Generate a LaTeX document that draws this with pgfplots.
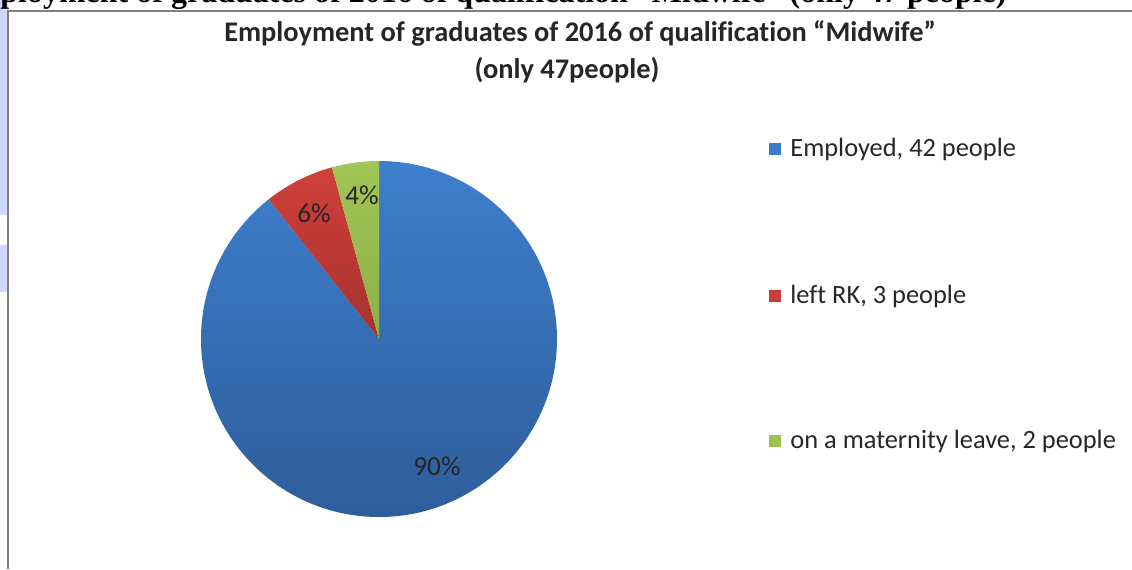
\documentclass[border=0pt]{standalone}
\usepackage{pgfplots}
\pgfplotsset{compat=1.18}
\usepackage{pgfplotstable}
\usepackage{fontspec}
\setmainfont{Carlito}[Ligatures=NoCommon]
\newfontfamily\timesfont{Liberation Serif}
\definecolor{bluetop}{RGB}{62,127,204}
\definecolor{bluebot}{RGB}{46,93,155}
\definecolor{redtop}{RGB}{208,64,58}
\definecolor{redbot}{RGB}{165,49,46}
\definecolor{greentop}{RGB}{162,198,84}
\definecolor{greenbot}{RGB}{140,175,72}
\definecolor{frame}{RGB}{128,128,128}
\definecolor{hl}{RGB}{206,216,255}

\pgfplotstableread{
label value
Employed 42
LeftRK 3
Maternity 2
}\piedata
\pgfplotstablegetelem{0}{value}\of\piedata \let\vA\pgfplotsretval
\pgfplotstablegetelem{1}{value}\of\piedata \let\vB\pgfplotsretval
\pgfplotstablegetelem{2}{value}\of\piedata \let\vC\pgfplotsretval
\pgfmathsetmacro\tot{\vA+\vB+\vC}
\pgfmathsetmacro\aA{90}
\pgfmathsetmacro\aB{\aA-360*\vA/\tot}
\pgfmathsetmacro\aC{\aB-360*\vB/\tot}
\pgfmathsetmacro\aD{\aC-360*\vC/\tot}

\begin{document}
\begin{tikzpicture}
\useasboundingbox (0,0) rectangle (566pt,284.5pt);
\begin{axis}[
  at={(0,0)}, anchor=south west,
  width=566pt, height=284.5pt, scale only axis,
  xmin=0, xmax=1132, ymin=0, ymax=569, y dir=reverse,
  hide axis, clip=false]
  % page artefacts
  \fill[hl] (axis cs:0,0) rectangle (axis cs:8,215);
  \fill[hl] (axis cs:0,245) rectangle (axis cs:8,292);
  \begin{scope}
    \clip (axis cs:0,0) rectangle (axis cs:1132,10);
    \node[anchor=base west, inner sep=0pt, font=\timesfont\bfseries\fontsize{16}{18}\selectfont]
      at (axis cs:-48,2) {Employment of graduates of 2016 of qualification “Midwife” (only 47 people)};
  \end{scope}
  \draw[frame, line width=1pt] (axis cs:8.3,569) -- (axis cs:8.3,11) -- (axis cs:1132,11);
  % pie
  \shade[top color=bluetop, bottom color=bluebot] (axis cs:379,339) -- ++(\aA:89pt) arc[start angle=\aA, end angle=\aB, radius=89pt] -- cycle;
  \shade[top color=redtop, bottom color=redbot] (axis cs:379,339) -- ++(\aB:89pt) arc[start angle=\aB, end angle=\aC, radius=89pt] -- cycle;
  \shade[top color=greentop, bottom color=greenbot] (axis cs:379,339) -- ++(\aC:89pt) arc[start angle=\aC, end angle=\aD, radius=89pt] -- cycle;
  % data labels
  \node[font=\fontsize{13.7}{15}\selectfont, text=black!85] at (axis cs:437,466) {90\%};
  \node[font=\fontsize{13.7}{15}\selectfont, text=black!85] at (axis cs:314,213) {6\%};
  \node[font=\fontsize{13.7}{15}\selectfont, text=black!85] at (axis cs:362,195) {4\%};
  % title
  \node[font=\bfseries\fontsize{14.2}{16}\selectfont, text=black!85] at (axis cs:580,33) {Employment of graduates of 2016 of qualification “Midwife”};
  \node[font=\bfseries\fontsize{14.2}{16}\selectfont, text=black!85] at (axis cs:567,70) {(only 47people)};
  % legend
  \fill[bluetop!90!bluebot] (axis cs:769,143) rectangle (axis cs:781,155);
  \fill[redtop!80!redbot] (axis cs:769,290) rectangle (axis cs:781,302);
  \fill[greentop!85!greenbot] (axis cs:769,435) rectangle (axis cs:781,447);
  \node[anchor=west, inner sep=0pt, font=\fontsize{13.2}{15}\selectfont, text=black!85] at (axis cs:790,149) {Employed, 42 people};
  \node[anchor=west, inner sep=0pt, font=\fontsize{13.2}{15}\selectfont, text=black!85] at (axis cs:790,296) {left RK, 3 people};
  \node[anchor=west, inner sep=0pt, font=\fontsize{13.2}{15}\selectfont, text=black!85] at (axis cs:790,441) {on a maternity leave, 2 people};
\end{axis}
\end{tikzpicture}
\end{document}
